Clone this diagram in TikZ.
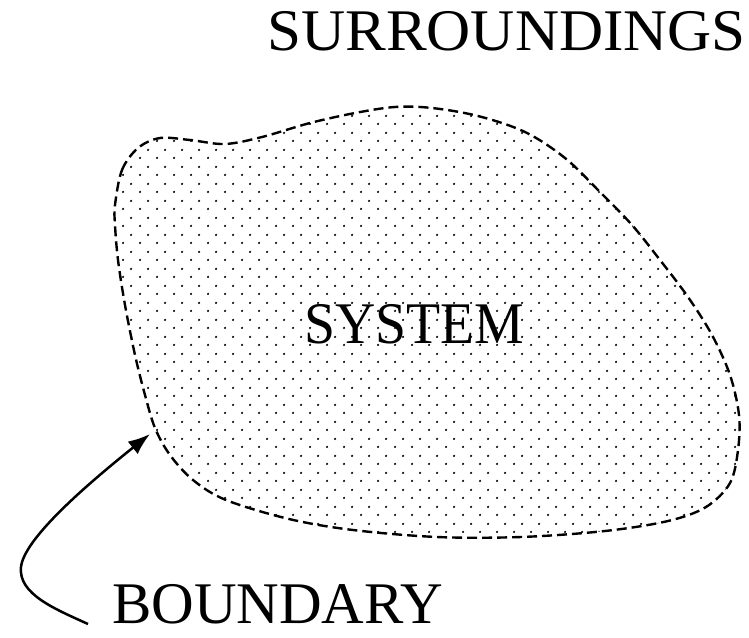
\documentclass[tikz,border=0pt]{standalone}
\usepackage{fontspec}
\setmainfont{Liberation Serif}
\usetikzlibrary{arrows.meta,patterns}
\pgfdeclarepatternformonly{stagdots}{\pgfqpoint{0pt}{0pt}}{\pgfqpoint{17pt}{17pt}}{\pgfqpoint{17pt}{17pt}}{%
  \pgfpathcircle{\pgfqpoint{4.25pt}{4.25pt}}{1.3pt}%
  \pgfpathcircle{\pgfqpoint{12.75pt}{12.75pt}}{1.3pt}%
  \pgfusepath{fill}}
\begin{document}
\begin{tikzpicture}[x=1pt,y=-1pt,
  boundary/.style={draw=black, line width=2.4pt, dash pattern=on 10pt off 5pt, pattern=stagdots, pattern color=black},
  lbl/.style={inner sep=0pt, font=\fontsize{59}{62}\selectfont},
  pointer/.style={line width=2.5pt, -{Latex[length=22pt,width=16pt]}}]
\fill[white] (0,0) rectangle (749,637);
\useasboundingbox (0,0) rectangle (749,637);
\path[boundary] plot[smooth cycle, tension=0.55] coordinates {
(115,205) (122,170) (138,148) (160,138) (190,140) (225,144) (262,137) (310,123)
(355,113) (395,107) (432,108) (478,116) (525,132) (565,158) (600,192) (632,225)
(660,260) (688,297) (712,335) (730,375) (739,415) (738,450) (730,483) (706,507)
(668,521) (605,531) (521,537) (437,537) (353,530) (289,519) (226,500) (193,480)
(170,455) (155,428) (145,395) (135,355) (125,305) (118,260) (115,225)};
\node[lbl, anchor=base east] (surr) at (746,50) {\scalebox{1.035}[1]{SURROUNDINGS}};
\node[lbl, anchor=base] (sys) at (414,343) {\scalebox{0.945}[1]{SYSTEM}};
\node[lbl, anchor=base west] (bnd) at (112,623) {BOUNDARY};
\coordinate (tip) at (150,434);
\coordinate (tail) at (88,624);
\draw[pointer] (tail) .. controls (55,609) and (18,594) .. (21,567) .. controls (24,540) and (80,490) .. (tip);
\end{tikzpicture}
\end{document}
